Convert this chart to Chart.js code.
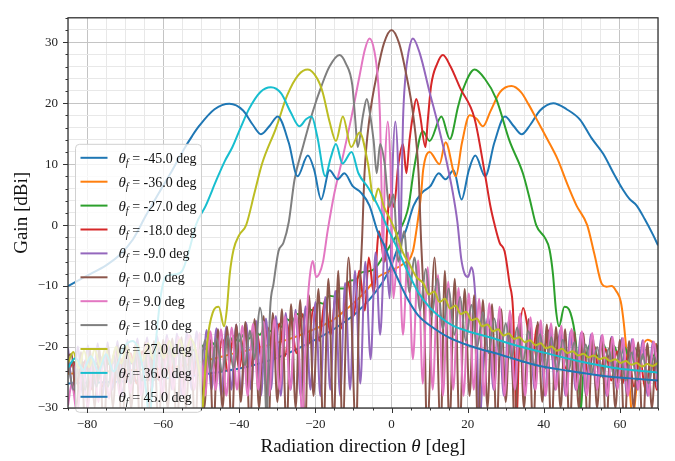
<!DOCTYPE html>
<html>
<head>
<meta charset="utf-8">
<script src="https://cdn.jsdelivr.net/npm/chart.js@4.4.1/dist/chart.umd.min.js"></script>
<style>
  html, body { margin: 0; padding: 0; background: #fff; }
  #wrap { width: 675px; height: 461px; position: relative; }
</style>
</head>
<body>
<div id="wrap"><canvas id="myChart"></canvas></div>
<script>
// steering angle of each curve (legend order)
const thetaF = [-45, -36, -27, -18, -9, 0, 9, 18, 27, 36, 45];

// gain curves, [theta deg, gain dBi]
const gainM45 = [[-85,-26],[-70,-25.6],[-55.2,-24.9],[-46.4,-24.2],[-37.6,-23.2],[-28.9,-21.5],[-20,-18.8],[-15,-17],[-10,-14.8],[-7,-13],[-5,-11.6],[-2,-9],[0,-6.5],[1.8,-3.5],[3.7,-1],[5.8,3.2],[8,5.3],[10.2,6.4],[12.4,8.5],[14.2,7.5],[16.3,9],[18.4,4.2],[20.3,9],[22,11.4],[24.6,8],[27,13.5],[29.8,17.8],[32,16.3],[34.2,14.9],[36.5,16.5],[39,18.8],[42.5,20],[46,19],[49.5,17.3],[52.5,14.3],[55.6,11.7],[58.5,8.3],[60.8,5.8],[62.5,4.3],[64.4,3.2],[66.5,1],[68.7,-1.6],[70,-3.3]];
const gainM36 = [[-85,-24.4],[-75,-24],[-65,-23.7],[-58,-23.4],[-50,-22.4],[-41,-21],[-33,-19.8],[-26,-18.5],[-20,-17],[-16,-15.8],[-13,-14.4],[-10,-12.8],[-7,-11],[-3.7,-8.6],[0,-7.4],[3,-6.4],[5.6,-4.3],[6.5,-1],[7.8,5.3],[8.3,9],[10,12],[12.6,10],[14.2,13.6],[16.9,8],[18.5,13.5],[20.5,18],[22.4,17.4],[24,16.2],[26,18.7],[28.5,21.8],[31.5,22.8],[34,21.8],[36,19.8],[38,17.5],[41,14],[43.7,10.7],[46,7],[48.6,3.2],[51.4,0],[53.3,-4.8],[55.2,-9.6],[56.5,-10.1],[57.8,-10],[59,-10.8],[60.2,-12.5],[61,-16],[61.8,-21.3],[62.6,-27],[63.3,-32],[64.3,-27],[65.5,-21],[67.3,-18.8],[69,-19.4],[70,-20]];
const gainM27 = [[-85,-23.1],[-83.6,-22.4],[-82.2,-23.3],[-80.8,-22.5],[-79.4,-23.4],[-78,-22.5],[-76.6,-23.2],[-75.2,-22.3],[-73.8,-23],[-72.4,-22.1],[-71,-22.8],[-69.6,-21.9],[-68.2,-22.7],[-66.8,-21.7],[-65.4,-22.4],[-64,-21.4],[-62.6,-22.2],[-61.2,-21.1],[-59.8,-21.9],[-58.4,-20.8],[-57,-21.6],[-55.6,-20.5],[-54.2,-21.2],[-52.8,-20.1],[-51.4,-20.8],[-50,-19.7],[-48.6,-20.4],[-47.2,-19.3],[-45.8,-20],[-44.4,-18.9],[-43,-19.6],[-41.6,-18.4],[-40.2,-19.1],[-38.8,-17.9],[-37.4,-18.6],[-36,-17.4],[-34.6,-18],[-33.2,-16.8],[-31.8,-17.4],[-30.4,-16.1],[-29,-16.7],[-27.6,-15.4],[-26.2,-15.9],[-24.8,-14.6],[-23.4,-15],[-22,-13.7],[-20.6,-14],[-19.2,-12.7],[-17.8,-12.9],[-16.4,-11.6],[-15,-11.7],[-13.6,-10.4],[-12.2,-10.4],[-10.8,-9.1],[-9.4,-9],[-8,-7.8],[-6.5,-7.6],[-4.5,-7.2],[-2,-5],[0,-3],[2,-1],[3.5,1],[4.5,3.2],[6,9.6],[8.2,15.4],[10,13.8],[13.1,17.8],[15.3,14.1],[17.5,19.5],[18.8,22.3],[21.8,25.5],[24.5,24],[27.5,20.7],[31,13.8],[34.5,8.5],[36.3,4.3],[38,0],[40.3,-2.1],[41.5,-4],[42.4,-8],[43.2,-14],[44,-16.6],[45.4,-13.4],[47,-14.4],[48.4,-19.1],[49.3,-27],[49.7,-30.5],[50.3,-25],[51.3,-21],[52.8,-19.3],[54.2,-21.5],[55.6,-19.5],[57,-21.6],[58.4,-19.8],[59.8,-21.8],[61.2,-20],[62.6,-22],[64,-20.2],[65.4,-22.2],[66.8,-20.4],[68.2,-22.4],[69.6,-20.6],[71,-22.5]];
const gainM18 = [[-85,-24.2],[-83.5,-22.5],[-82,-27],[-80.5,-22.2],[-79,-27],[-77.5,-21.9],[-76,-26.5],[-74.5,-21.6],[-73,-26.5],[-71.5,-21.3],[-70,-26],[-68.5,-21],[-67,-26],[-65.5,-20.7],[-64,-25.5],[-62.5,-20.4],[-61,-25.5],[-59.5,-20.1],[-58,-25],[-56.5,-19.8],[-55,-25],[-53.5,-19.5],[-52,-24.5],[-50.5,-19.2],[-49,-24.5],[-47.5,-18.9],[-46,-24],[-44.5,-18.6],[-43,-24],[-41.5,-18.2],[-40,-23.5],[-38.5,-17.8],[-37,-23],[-35.5,-17.3],[-34,-22.5],[-32.5,-16.8],[-31,-22],[-29.5,-16.2],[-28,-21.5],[-26.5,-15.5],[-25,-21],[-23.5,-14.6],[-22,-20],[-20.5,-13.5],[-19,-19],[-17.5,-12.3],[-16,-18],[-14.5,-10.8],[-13,-17],[-11.5,-9.3],[-10,-15],[-8.5,-7.5],[-7,-14],[-6,-5.3],[-4.7,-11],[-3.3,-1],[-1.8,-6],[-0.5,5],[0.6,3],[1.8,10],[3,13.3],[3.9,8.5],[4.7,13.8],[5.6,18],[6.5,20.7],[7.5,18],[8.9,12.8],[9.5,17],[10.4,22.9],[12,26.5],[13.5,27.9],[15.5,26],[18,22.5],[21.8,17.5],[24.5,8.5],[26,3],[27.1,0],[28.4,-2.9],[29.7,-4.3],[31,-9.6],[31.9,-13.8],[32.4,-23.4],[32.8,-33],[33.5,-20],[34.6,-13.6],[35.8,-17],[37,-22],[38.2,-16.5],[39.7,-22.5],[41.2,-17.3],[42.7,-23],[44.2,-18],[45.7,-23.5],[47.2,-18.7],[48.7,-24],[50.2,-19.3],[51.7,-24.5],[53.2,-19.8],[54.7,-25],[56.2,-20.3],[57.7,-25.5],[59.2,-20.7],[60.7,-26],[62.2,-21.1],[63.7,-26.5],[65.2,-21.5],[66.7,-27],[68.2,-21.8],[69.7,-27],[71,-22.3]];
const gainM9 = [[-85,-20.2],[-83.7,-27],[-82.4,-19.9],[-81.1,-28],[-79.8,-19.7],[-78.5,-27],[-77.2,-19.4],[-75.9,-28],[-74.6,-19.2],[-73.3,-27],[-72,-19],[-70.7,-28],[-69.4,-18.8],[-68.1,-27],[-66.8,-18.6],[-65.5,-28],[-64.2,-18.4],[-62.9,-27],[-61.6,-18.2],[-60.3,-28],[-59,-18],[-57.7,-27],[-56.4,-17.8],[-55.1,-28],[-53.8,-17.6],[-52.5,-27],[-51.2,-17.4],[-49.9,-28],[-48.6,-17.2],[-47.3,-27],[-46,-16.9],[-44.7,-28],[-43.4,-16.6],[-42.1,-27],[-40.8,-16.3],[-39.5,-28],[-38.2,-16],[-36.9,-27],[-35.6,-15.7],[-34.3,-28],[-33,-15.3],[-31.7,-27],[-30.4,-14.9],[-29.1,-28],[-27.8,-14.4],[-26.5,-27],[-25.2,-13.9],[-23.9,-28],[-22.6,-13.3],[-21.3,-27],[-20,-12.6],[-18.7,-28],[-17.4,-11.8],[-16.1,-27],[-14.8,-10.8],[-13.5,-28],[-12.2,-9.5],[-10.9,-27],[-9.6,-7.5],[-8.2,-26],[-6.9,-6],[-5.5,-22],[-4.2,-4.5],[-3,-18],[-1.7,-3],[-0.5,-12],[0.3,10],[1,17],[1.7,10],[2.3,-6],[2.6,5],[3,17],[3.6,24],[4.5,28.5],[5.6,30.6],[7.4,28.2],[10,21.8],[12.2,16.5],[14.4,10.6],[16.1,5.3],[17.3,0.5],[18.3,-5.5],[19.2,-8],[20.1,-8.5],[21,-6.9],[21.6,-8.5],[22.1,-13],[22.5,-20],[23,-33],[24.2,-22],[25.4,-15],[26.8,-27],[28.1,-15.3],[29.5,-28],[30.8,-15.7],[32.2,-27],[33.5,-16],[34.9,-28],[36.2,-16.3],[37.6,-27],[38.9,-16.6],[40.3,-28],[41.6,-16.9],[43,-27],[44.3,-17.2],[45.7,-28],[47,-17.4],[48.4,-27],[49.7,-17.7],[51.1,-28],[52.4,-17.9],[53.8,-27],[55.1,-18.1],[56.5,-28],[57.8,-18.3],[59.2,-27],[60.5,-18.5],[61.9,-28],[63.2,-18.7],[64.6,-27],[65.9,-18.9],[67.3,-28],[68.6,-19.1],[70,-27]];
const gain0 = [[-86,-30],[-85,-21.5],[-84,-21.2],[-82.8,-30],[-81.6,-20.8],[-80.4,-34],[-79.2,-20.5],[-78,-30],[-76.8,-20.2],[-75.6,-34],[-74.4,-20],[-73.2,-30],[-72,-19.8],[-70.8,-34],[-69.6,-19.6],[-68.4,-30],[-67.2,-19.4],[-66,-34],[-64.8,-19.2],[-63.6,-30],[-62.4,-19],[-61.2,-34],[-60,-18.8],[-58.8,-30],[-57.6,-18.6],[-56.4,-34],[-55.2,-18.4],[-54,-30],[-52.8,-18.1],[-51.6,-34],[-50.4,-17.8],[-49.2,-30],[-48,-17.5],[-46.8,-34],[-45.6,-17.1],[-44.4,-30],[-43.2,-16.7],[-42,-34],[-40.8,-16.3],[-39.6,-29],[-38.4,-15.9],[-37.2,-34],[-36,-15.4],[-34.8,-30],[-33.6,-14.9],[-32.4,-34],[-31.2,-14.4],[-30,-29],[-28.8,-13.8],[-27.6,-34],[-26.4,-13],[-25.2,-30],[-24,-12.3],[-22.7,-34],[-21.7,-11.5],[-20.5,-28],[-19.2,-10.5],[-17.9,-34],[-16.6,-8.8],[-15.2,-33],[-14,-7.5],[-12.9,-34],[-11.3,-5.3],[-9.3,-34],[-8.6,-15],[-7.7,-1.6],[-7.1,8.5],[-5.8,17.5],[-3.6,25.5],[-2,29.8],[0,32],[2,29.8],[3.6,25.5],[5.8,17.5],[7.1,8.5],[7.7,-1.6],[8.6,-15],[9.3,-34],[11.3,-5.3],[12.9,-34],[14,-7.5],[15.2,-33],[16.6,-8.8],[17.9,-34],[19.2,-10.5],[20.5,-28],[21.7,-11.5],[22.7,-34],[24,-12.3],[25.2,-30],[26.4,-13],[27.6,-34],[28.8,-13.8],[30,-29],[31.2,-14.4],[32.4,-34],[33.6,-14.9],[34.8,-30],[36,-15.4],[37.2,-34],[38.4,-15.9],[39.6,-29],[40.8,-16.3],[42,-34],[43.2,-16.7],[44.4,-30],[45.6,-17.1],[46.8,-34],[48,-17.5],[49.2,-30],[50.4,-17.8],[51.6,-34],[52.8,-18.1],[54,-30],[55.2,-18.4],[56.4,-34],[57.6,-18.6],[58.8,-30],[60,-18.8],[61.2,-34],[62.4,-19],[63.6,-30],[64.8,-19.2],[66,-34],[67.2,-19.4],[68.4,-30],[69.6,-19.5],[70.8,-34]];
const gainP9 = [[-85,-29.6],[-84,-26],[-82.6,-31],[-81.2,-23.5],[-79.8,-30],[-78.4,-22],[-77,-29],[-75.6,-21.2],[-74.2,-28.5],[-72.8,-20.6],[-71.4,-28],[-70,-20.1],[-68.6,-27.5],[-67.2,-19.7],[-65.8,-28],[-64.4,-19.3],[-63,-27],[-61.6,-19],[-60.2,-28],[-58.8,-18.6],[-57.4,-27],[-56,-18.3],[-54.6,-28],[-53.2,-18],[-51.8,-27],[-50.4,-17.7],[-49,-28],[-47.6,-17.4],[-46.2,-27],[-44.8,-17.1],[-43.4,-28],[-42,-16.8],[-40.6,-27],[-39.2,-16.5],[-37.8,-28],[-36.4,-16.2],[-35,-27],[-33.6,-15.8],[-32.2,-28],[-30.8,-15.4],[-29.4,-27],[-28,-15],[-26.6,-27],[-25.2,-14.5],[-24.2,-22],[-23.4,-33],[-23,-26],[-22.5,-18],[-22,-12.2],[-21.3,-7.5],[-20.7,-5.9],[-19.8,-8.5],[-19,-8],[-18,-6],[-16.8,-1],[-15,5.3],[-12.8,11.2],[-10.6,17.5],[-8.4,24.5],[-7,28.8],[-5.8,30.6],[-4.5,28.5],[-3.6,24],[-3,17],[-2.6,5],[-2.3,-6],[-1.7,10],[-1,17],[-0.3,10],[0.5,-12],[1.8,-3],[3,-18],[4.3,-4.5],[5.6,-22],[7,-5.8],[8.2,-26],[9.5,-6.9],[10.8,-27],[12.2,-8.2],[13.5,-28],[14.9,-9.3],[16.2,-27],[17.6,-10.3],[18.9,-28],[20.3,-11.2],[21.6,-27],[23,-12.1],[24.3,-28],[25.7,-12.8],[27,-27],[28.4,-13.4],[29.7,-28],[31.1,-14],[32.4,-27],[33.8,-14.5],[35.1,-28],[36.5,-15.1],[37.8,-27],[39.2,-15.6],[40.5,-28],[41.9,-16.1],[43.2,-27],[44.6,-16.5],[45.9,-28],[47.3,-17],[48.6,-27],[50,-17.4],[51.3,-28],[52.7,-17.7],[54,-27],[55.4,-18],[56.7,-28],[58.1,-18.3],[59.4,-27],[60.8,-18.5],[62.1,-28],[63.5,-18.7],[64.8,-27],[66.2,-18.9],[67.5,-28],[68.9,-19.1],[70.2,-27]];
const gainP18 = [[-85,-22.5],[-83.5,-27],[-82,-22.2],[-80.5,-27],[-79,-21.9],[-77.5,-26.5],[-76,-21.6],[-74.5,-26.5],[-73,-21.3],[-71.5,-26],[-70,-21],[-68.5,-26],[-67,-20.7],[-65.5,-25.5],[-64,-20.4],[-62.5,-25.5],[-61,-20.1],[-59.5,-25],[-58,-19.8],[-56.5,-25],[-55,-19.5],[-53.5,-24.5],[-52,-19.2],[-50.5,-24.5],[-49,-18.9],[-47.5,-24],[-46,-18.6],[-44.5,-24],[-43,-18.2],[-41.5,-23.5],[-40,-17.8],[-38.5,-23],[-37.2,-17.3],[-36,-22],[-34.6,-13.5],[-33.5,-20],[-32.8,-33],[-32.4,-23.4],[-31.9,-13.8],[-31,-9.6],[-29.7,-4.3],[-28.4,-2.9],[-27,0.5],[-25.5,7.4],[-23.3,12.8],[-20.7,18.6],[-18.3,23],[-16.3,26],[-13.7,27.9],[-12,26.5],[-10.3,22.9],[-9.5,17],[-8.9,12.8],[-7.5,18],[-6.5,20.7],[-5.6,18],[-4.7,13.8],[-3.9,8.5],[-3,13.3],[-1.8,10],[-0.6,3],[0.5,5],[1.8,-6],[3.3,-1],[4.7,-11],[6,-5.3],[7.5,-14],[9,-7.2],[10.5,-15],[12,-8.8],[13.5,-17],[15,-10.4],[16.5,-18],[18,-11.8],[19.5,-19],[21,-13.1],[22.5,-20],[24,-14.3],[25.5,-21],[27,-15.3],[28.5,-21.5],[30,-16.1],[31.5,-22],[33,-16.8],[34.5,-22.5],[36,-17.4],[37.5,-23],[39,-17.9],[40.5,-23.5],[42,-18.4],[43.5,-24],[45,-18.8],[46.5,-24],[48,-19.2],[49.5,-24.5],[51,-19.6],[52.5,-24.5],[54,-20],[55.5,-25],[57,-20.3],[58.5,-25],[60,-20.6],[61.5,-25.5],[63,-20.9],[64.5,-25.5],[66,-21.2],[67.5,-26],[69,-21.5],[70.5,-26]];
const gainP27 = [[-85,-22.6],[-83.6,-20.8],[-82.2,-23.5],[-80.8,-20.6],[-79.4,-23.3],[-78,-20.4],[-76.6,-23.1],[-75.2,-20.2],[-73.8,-22.9],[-72.4,-20],[-71,-22.7],[-69.6,-19.8],[-68.2,-22.5],[-66.8,-19.6],[-65.4,-22.3],[-64,-19.4],[-62.6,-22],[-61.2,-19.2],[-59.8,-21.8],[-58.4,-19],[-57,-21.6],[-55.6,-18.8],[-54.2,-21.5],[-52.8,-18.6],[-51.3,-21],[-50.3,-25],[-49.7,-30.5],[-49.3,-27],[-48.4,-19.1],[-47,-14.4],[-45.4,-13.4],[-44,-16.6],[-43.3,-14],[-42.5,-8],[-41.5,-4],[-40,-1.6],[-38.2,0],[-36,5.3],[-34,10.1],[-30.3,16],[-27.4,21.3],[-24.5,24.6],[-22,25.5],[-19.5,24],[-18.1,21.8],[-16.3,17],[-14.6,13.8],[-12.8,17.8],[-10.6,12.8],[-8.4,15.2],[-6.2,10.1],[-4.6,4],[-3.5,6],[-2,3],[0,0.5],[1.5,-1.8],[3,-4.5],[4.8,-6.5],[6.5,-8.5],[8.4,-9.6],[9.8,-11.4],[11.2,-10.9],[12.6,-12.6],[14,-12.1],[15.4,-13.7],[16.8,-13.2],[18.2,-14.6],[19.6,-14.2],[21,-15.6],[22.4,-15.3],[23.8,-16.6],[25.2,-16.3],[26.6,-17.4],[28,-17.1],[29.4,-18.1],[30.8,-17.8],[32.2,-18.7],[33.6,-18.4],[35,-19.2],[36.4,-18.9],[37.8,-19.7],[39.2,-19.4],[40.6,-20.2],[42,-19.9],[43.4,-20.6],[44.8,-20.3],[46.2,-21],[47.6,-20.7],[49,-21.4],[50.4,-21.1],[51.8,-21.7],[53.2,-21.4],[54.6,-22],[56,-21.7],[57.4,-22.3],[58.8,-22],[60.2,-22.6],[61.6,-22.3],[63,-22.9],[64.4,-22.6],[65.8,-23.2],[67.2,-22.8],[68.6,-23.1],[70,-22.6]];
const gainP36 = [[-85,-23.4],[-83,-21.8],[-81,-23.8],[-79,-21.5],[-77,-24],[-75,-21.2],[-73,-24],[-70.5,-20.2],[-68,-19],[-66,-21.5],[-64.5,-27],[-63.6,-32],[-62.6,-24],[-61.6,-17],[-60.6,-11.5],[-59.5,-8.6],[-58.5,-8.2],[-57,-8.1],[-55,-7.5],[-53.2,-4.2],[-51.4,0],[-48.8,3.2],[-46,7.4],[-43.8,10.5],[-41.8,12.8],[-39.5,16.2],[-37.4,19.1],[-34.5,21.8],[-31.7,22.6],[-29,21.6],[-26.5,18.5],[-24.2,16.2],[-22.4,17.4],[-21,17.8],[-19.5,14.5],[-17.4,8],[-16,11],[-14.6,13.3],[-12.9,10.1],[-10.5,12],[-8.7,8.5],[-6,6],[-3.6,3.2],[-1,-0.5],[1.5,-3.8],[4,-7.3],[7,-11],[10,-13.5],[13,-15.2],[16.1,-16.5],[20,-17.4],[25.8,-18.4],[33,-19.8],[40.7,-21],[49,-22.3],[58.2,-23.4],[65,-23.9],[70,-24.2]];
const gainP45 = [[-85,-10],[-80,-8.3],[-75,-6.6],[-71.6,-5],[-68,-2.4],[-64.5,1.6],[-61,5.4],[-57.6,9],[-54.5,12.5],[-52.4,14.6],[-50.5,16.3],[-46.5,19],[-42.6,19.9],[-39,18.8],[-36.5,16.5],[-34.3,14.9],[-32,16.3],[-29.9,17.8],[-27,13.5],[-24.7,8],[-22,11.4],[-20.3,9],[-18.5,4.2],[-16.3,9],[-14.2,7.5],[-12.4,8.5],[-10.2,6.4],[-8,5.3],[-5.8,3.2],[-3.7,-1],[-1.8,-3.5],[0,-6.5],[2,-9.3],[4.3,-12.2],[7,-14.8],[11.3,-17],[15,-18.4],[20.1,-19.7],[28.9,-21.3],[37.6,-22.9],[46.4,-23.9],[55.2,-24.7],[62,-25.1],[70,-25.5]];

const seriesData = [gainM45, gainM36, gainM27, gainM18, gainM9, gain0, gainP9, gainP18, gainP27, gainP36, gainP45];
const lineColors = ['#1f77b4', '#ff7f0e', '#2ca02c', '#d62728', '#9467bd', '#8c564b', '#e377c2', '#7f7f7f', '#bcbd22', '#17becf', '#1f77b4'];

const xRange = [-85, 70];
const yRange = [-30, 34];
const serif = '"Liberation Serif", "Times New Roman", serif';

function minusSign(v) {
  return String(v).replace('-', '\u2212');
}

// box, tick marks, axis titles and the legend drawn by hand
const framePlugin = {
  id: 'frame',
  afterDatasetsDraw(chart) {
    const { ctx, chartArea: a } = chart;
    const lx = a.left + 7.5, ly = a.top + 126.5, lw = 126, lh = 268, r = 4;
    ctx.save();
    ctx.beginPath();
    ctx.moveTo(lx + r, ly);
    ctx.lineTo(lx + lw - r, ly);
    ctx.arcTo(lx + lw, ly, lx + lw, ly + r, r);
    ctx.lineTo(lx + lw, ly + lh - r);
    ctx.arcTo(lx + lw, ly + lh, lx + lw - r, ly + lh, r);
    ctx.lineTo(lx + r, ly + lh);
    ctx.arcTo(lx, ly + lh, lx, ly + lh - r, r);
    ctx.lineTo(lx, ly + r);
    ctx.arcTo(lx, ly, lx + r, ly, r);
    ctx.closePath();
    ctx.fillStyle = 'rgba(255,255,255,0.8)';
    ctx.fill();
    ctx.strokeStyle = '#d0d0d0';
    ctx.lineWidth = 1;
    ctx.stroke();

    thetaF.forEach((t, i) => {
      const y = ly + 13.5 + i * 23.9;
      ctx.strokeStyle = lineColors[i];
      ctx.lineWidth = 2;
      ctx.beginPath();
      ctx.moveTo(lx + 5, y);
      ctx.lineTo(lx + 32, y);
      ctx.stroke();
      let x = lx + 43;
      ctx.fillStyle = '#111';
      ctx.textAlign = 'left';
      ctx.textBaseline = 'alphabetic';
      ctx.font = 'italic 15px ' + serif;
      ctx.fillText('\u03b8', x, y + 5);
      x += ctx.measureText('\u03b8').width;
      ctx.font = 'italic 10px ' + serif;
      ctx.fillText('f', x, y + 8);
      x += ctx.measureText('f').width;
      ctx.font = '14px ' + serif;
      ctx.fillText(' = ' + t.toFixed(1) + ' deg', x, y + 5);
    });
    ctx.restore();
  },
  afterDraw(chart) {
    const { ctx, chartArea: a, scales } = chart;
    ctx.save();
    ctx.strokeStyle = '#333';
    ctx.lineWidth = 1;
    scales.y.ticks.forEach(t => {
      const p = Math.round(scales.y.getPixelForValue(t.value)) + 0.5;
      const len = t.value % 10 === 0 ? 5 : 2.5;
      ctx.beginPath();
      ctx.moveTo(a.left - len, p);
      ctx.lineTo(a.left, p);
      ctx.stroke();
    });
    scales.x.ticks.forEach(t => {
      const p = Math.round(scales.x.getPixelForValue(t.value)) + 0.5;
      const len = t.value % 20 === 0 ? 5 : 2.5;
      ctx.beginPath();
      ctx.moveTo(p, a.bottom);
      ctx.lineTo(p, a.bottom + len);
      ctx.stroke();
    });
    ctx.lineWidth = 1.3;
    ctx.strokeRect(a.left, a.top, a.right - a.left, a.bottom - a.top);

    ctx.fillStyle = '#111';
    ctx.font = '19px ' + serif;
    ctx.textBaseline = 'middle';
    ctx.textAlign = 'center';
    ctx.translate(22, (a.top + a.bottom) / 2);
    ctx.rotate(-Math.PI / 2);
    ctx.fillText('Gain [dBi]', 0, 0);
    ctx.setTransform(1, 0, 0, 1, 0, 0);

    const parts = [['Radiation direction ', ''], ['\u03b8', 'italic '], [' [deg]', '']];
    ctx.textAlign = 'left';
    ctx.textBaseline = 'alphabetic';
    let total = 0;
    parts.forEach(([s, st]) => { ctx.font = st + '19px ' + serif; total += ctx.measureText(s).width; });
    let x = (a.left + a.right) / 2 - total / 2;
    parts.forEach(([s, st]) => {
      ctx.font = st + '19px ' + serif;
      ctx.fillText(s, x, 452);
      x += ctx.measureText(s).width;
    });
    ctx.restore();
  }
};

const ctx = document.querySelector('#myChart');

new Chart(ctx, {
  type: 'line',
  data: {
    datasets: seriesData.map((pts, i) => ({
      label: '\u03b8f = ' + thetaF[i].toFixed(1) + ' deg',
      data: pts.map(p => ({ x: p[0], y: p[1] })),
      borderColor: lineColors[i],
      borderWidth: 2,
      pointRadius: 0,
      fill: false,
      cubicInterpolationMode: 'monotone',
      clip: 0,
      order: seriesData.length - 1 - i
    }))
  },
  options: {
    responsive: true,
    maintainAspectRatio: false,
    animation: false,
    layout: { padding: { top: 7, right: 17, left: 0, bottom: 0 } },
    plugins: {
      legend: { display: false },
      tooltip: { enabled: false }
    },
    scales: {
      x: {
        type: 'linear',
        min: xRange[0],
        max: xRange[1],
        afterFit: s => { s.height = 53; },
        border: { display: false },
        grid: {
          drawTicks: false,
          color: c => (c.tick && c.tick.value % 20 === 0) ? '#c4c4c4' : '#e8e8e8',
          lineWidth: 1
        },
        ticks: {
          stepSize: 5,
          autoSkip: false,
          maxRotation: 0,
          padding: 9,
          color: '#222',
          font: { family: serif, size: 13 },
          callback: v => v % 20 === 0 ? minusSign(v) : ''
        }
      },
      y: {
        min: yRange[0],
        max: yRange[1],
        afterFit: s => { s.width = 68; },
        border: { display: false },
        grid: {
          drawTicks: false,
          color: c => (c.tick && c.tick.value % 10 === 0) ? '#c4c4c4' : '#e8e8e8',
          lineWidth: 1
        },
        ticks: {
          stepSize: 2,
          autoSkip: false,
          padding: 10,
          color: '#222',
          font: { family: serif, size: 13 },
          callback: v => v % 10 === 0 ? minusSign(v) : ''
        }
      }
    }
  },
  plugins: [framePlugin]
});
</script>
</body>
</html>
